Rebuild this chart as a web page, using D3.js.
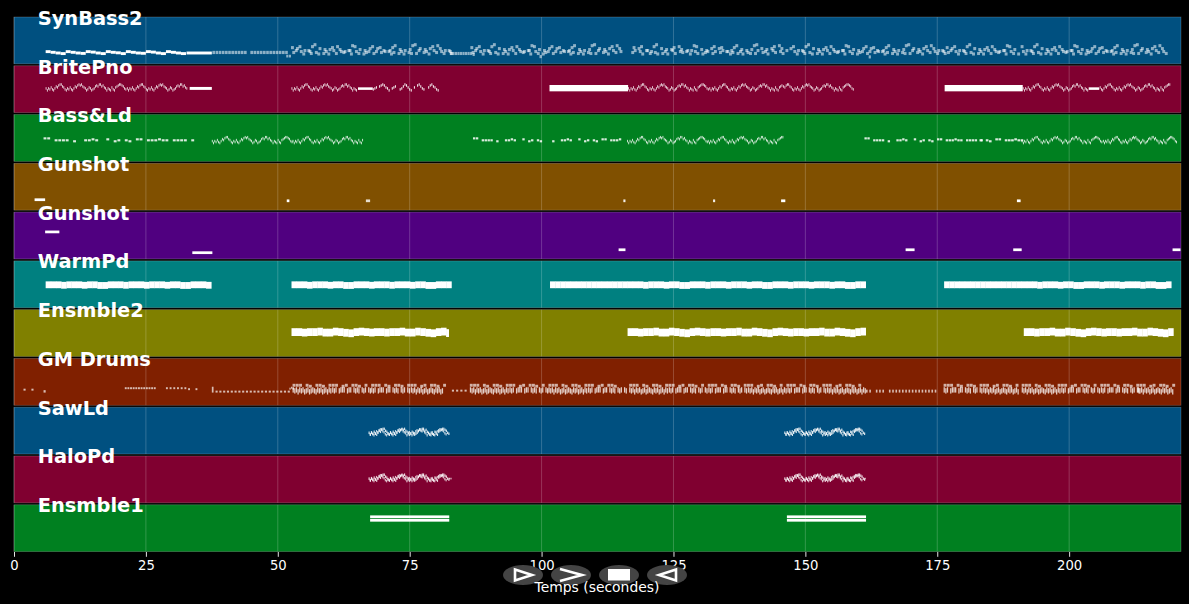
<!DOCTYPE html>
<html>
<head>
<meta charset="utf-8">
<script src="https://cdn.jsdelivr.net/npm/d3@7"></script>
<style>
html,body{margin:0;padding:0;background:#000;overflow:hidden}
svg{display:block;font-family:"DejaVu Sans",sans-serif}
</style>
</head>
<body>
<svg id="c" width="1189" height="604"></svg>
<script>
const trackNames = ["SynBass2","BritePno","Bass&Ld","Gunshot","Gunshot","WarmPd","Ensmble2","GM Drums","SawLd","HaloPd","Ensmble1"];
const trackColors = ["#005080","#800030","#008020","#805000","#500080","#008080","#808000","#802000","#005080","#800030","#008020"];
const tickValues = [0,25,50,75,100,125,150,175,200];
const axisLabel = "Temps (secondes)";
const timeMax = 221.2;
const pitchMax = 48;

// a phrase: [start s, step s, note length s, pitch span, velocity, base pitch, pitches]
const synOpening = [11,10.3,9.6,9, 11,10.3,9.6,9.2, 11,10.5,9.6,9, 11,10.3,9.8,9, 11,10.3,9.6,9.3, 11,10.5,9.6,9, 11,10.3,9.6,9];
const synPale = [0,0,0,0,0,0,0,0,0,0,0,null,0,0,0,0,0,0,0,0,0,0,0,0];
const synUpper = [15,null,14,16,null,12,null,11, 16,18,null,14,null,13,null,13, 15,null,16,13,null,11,null,12, 17,16,null,13,null,12,null,14,
  16,null,14,15,null,11,null,12, 15,17,null,13,null,12,null,13, 17,18,null,14,null,13,null,14, 16,null,17,14,null,12,null,11];
const synLower = [10,12,null,11,8.5,null,12,9, null,10,8.5,null,9,11,8.5,null, 12,9,null,11,10,null,12,8.5, null,11,9,null,8.5,10,11,null,
  9,11,null,10,12,null,11,8.5, 10,null,9,11,8.5,null,10,9, null,9,12,null,10,11,8.5,null, 12,10,null,11,9,null,12,9];
const synFlat = [9,9,9,9,9,9,9,9,9,8];

const leadMelody = [-1,-3,-1,-2,0,-2,-3,-1,1,0,2,3,3,1,0,-2, -3,-1,-2,0,-2,-3,-1,1,0,2,3,2,3,1,0,-1,
  -3,-2,0,-1,-3,-2,-1,1,2,1,3,3,1,2,0,-1, -3,-1,-2,-3,0,-2,-3,0,1,2,3,3,2,1,-1,-2];
const leadSparse = [-2,-1,0,null,1,2,3,2,0,-1,-3,null,-1,0,1,null,null,-2,-1,1,3,2,0,-2,-3,null,0,null,2,3,1,-1,-2,null,
  null,0,2,3,1,0,-2,-3];
const bassSparse = [2,2,null,0,0,0,0,null,-1,null,null,0,0,1,0,null,null,1,null,-1,0,null,0,-1,null,1,1,null,0,0,0,1,0,0,null,0,0,0,0,null,0];
const warmLine = [20,20,20,19.5,20,20,20,19.5,20,20,19.3,19.3,20,20,20,19.5];
const warmSteady = [20,20,20,20,20,20,20,20,20,20,20,20,20,20,20];
const ensLine = [21,21,20.5,21,21,21.5,20.5,20.5,21.5,21,20.3,19.8,21,21.5,21,20.5];
const drumTop = [19,19,19,null,19,18,null,19,19,18,null,19,19,19,null,18,19,null,19,19,18,null,19,null];
const drumLow = [13,12,13,11,13,12,13,11,12,13,11,12,13,12,11,13,12,13,11,12,13,11,13,12];
const drumTicks = [13,12,13,null,12,13,13,13,null,12,13,13,null,13,12,13,12,null,13,12,13,null,13,12];

const trackPhrases = [
  [ [6,.95,.95,3,1,0,synOpening],
    [32.7,4.8,4.8,3,1,0,[9.6]],
    [37.6,.6,.5,3.3,.55,10,synPale],
    [51.6,.5,.4,2.8,.55,6.5,[0,0]],
    [52.5,.475,.55,3.2,.55,0,synUpper],[52.75,.475,.55,3.2,.55,0,synLower],
    [82.6,.48,.42,3.2,.55,0,synFlat],
    [86.5,.475,.55,3.2,.55,0,synUpper.slice(0,60)],[86.75,.475,.55,3.2,.55,0,synLower.slice(0,60)],
    [99.6,.5,.45,3.2,.55,5.8,[0]],
    [117,.475,.55,3.2,.55,0,synLower.slice(0,62)],[117.25,.475,.55,3.2,.55,0,synUpper.slice(0,62)],
    [147,.475,.55,3.2,.55,0,synUpper.slice(2,64)],[147.25,.475,.55,3.2,.55,0,synLower.slice(2,64)],
    [162,.5,.42,3.2,.55,5.5,[0]],
    [176.6,.475,.55,3.2,.55,0,synUpper.slice(0,29)],[176.85,.475,.55,3.2,.55,0,synLower.slice(0,29)],
    [190.8,.475,.55,3.2,.55,0,synUpper.slice(3,61)],[191.05,.475,.55,3.2,.55,0,synLower.slice(3,61)] ],
  [ [6,.24,.16,2.6,.9,24.5,leadMelody],[21.4,.24,.16,2.6,.9,24.5,leadMelody.slice(0,48)],
    [33.3,4.2,4.2,3,1,23.3,[0]],
    [52.6,.24,.16,2.6,.9,24.5,leadMelody.slice(0,52)],[65.2,2.8,2.8,2.6,1,23.3,[0]],
    [68,.3,.2,2.6,.9,24.5,leadSparse],
    [101.5,14.9,14.9,6.5,1,21.8,[0]],
    [116.4,.24,.16,2.6,.9,24.5,leadMelody],[131.8,.24,.16,2.6,.9,24.5,leadMelody.slice(0,58)],[145.8,.24,.16,2.6,.9,24.5,leadMelody.slice(8,64)],
    [176.4,14.8,14.8,6.5,1,21.8,[0]],
    [191.2,.24,.16,2.6,.9,24.5,leadMelody.slice(0,52)],[203.7,2,2,2.6,1,23.3,[0]],[205.8,.24,.16,2.6,.9,24.5,leadMelody.slice(4,60)] ],
  [ [5.6,.7,.55,2.2,.85,20.5,bassSparse],
    [37.5,.24,.16,2.6,.9,20.5,leadMelody],[52.8,.24,.16,2.6,.9,20.5,leadMelody.slice(0,56)],
    [87,.55,.45,2.2,.85,20.5,bassSparse.slice(0,24)],[102,.55,.45,2.2,.85,20.5,bassSparse.slice(8,32)],
    [116.2,.24,.16,2.6,.9,20.5,leadMelody],[131.5,.24,.16,2.6,.9,20.5,leadMelody.slice(0,60)],
    [161.2,.55,.45,2.2,.85,20.5,bassSparse],[183,.6,.5,2.2,.85,20.5,bassSparse.slice(20,35)],
    [191,.24,.16,2.6,.9,20.5,leadMelody],[206.4,.22,.16,2.6,.9,20.5,leadMelody] ],
  [ [3.9,2,2,2.8,1,9.3,[0]],[51.7,.5,.5,2.8,1,8.2,[0]],[66.7,.8,.8,2.8,.8,8.2,[0]],
    [115.5,.4,.4,2.8,.9,8.2,[0]],[132.5,.4,.4,2.8,.9,8.2,[0]],[145.4,.8,.8,2.8,1,8.2,[0]],[190.1,.7,.7,2.8,1,8.2,[0]] ],
  [ [5.9,2.7,2.7,2.8,1,26.3,[0]],[33.8,3.8,3.8,2.8,1,5,[0]],
    [114.6,1.3,1.3,2.8,1,8,[0]],[169,1.7,1.7,2.8,1,8,[0]],[189.4,1.6,1.6,2.8,1,8,[0]],[219.6,1.5,1.5,2.8,1,8,[0]] ],
  [ [6,.98,1.05,7,1,0,warmLine],[21.7,.98,1.05,7,1,0,warmLine],
    [52.6,.98,1.05,7,1,0,warmLine],[68.2,.98,1.05,7,1,0,warmLine.slice(0,15)],
    [101.6,.98,1.05,7,1,0,warmSteady],[116.3,.98,1.05,7,1,0,warmLine],[132,.98,1.05,7,1,0,warmLine],[147.7,.98,1.05,7,1,0,warmLine.slice(0,14)],
    [176.3,.98,1.05,7,1,0,warmSteady],[191,.98,1.05,7,1,0,warmLine],[206.6,.98,1.05,7,1,0,warmLine.slice(0,13)] ],
  [ [52.6,.98,1.05,8,1,0,ensLine],[68.2,.98,1.05,8,1,0,ensLine.slice(0,14)],[81.9,.55,.55,8,1,20,[0]],
    [116.3,.98,1.05,8,1,0,ensLine],[132,.98,1.05,8,1,0,ensLine],[147.7,.98,1.05,8,1,0,ensLine.slice(0,14)],
    [191.4,.98,1.05,8,1,0,ensLine],[207,.98,1.05,8,1,0,ensLine.slice(0,13)] ],
  [ [1.8,.75,.4,2,.7,15,[0,null,0]],[5.6,.4,.4,2.5,.7,13,[0]],
    [21,.5,.36,2,.7,16.5,[0,0,0,0,0,0,0,0,0,0,0,0]],
    [28.8,.7,.36,2,.7,16.5,[0,0,0,0,0,0,-1,null,-1]],
    [37.5,.5,.32,6,.7,13,[0]],
    [38.2,.72,.4,2,.7,13,[0,0,0,0,0,0,0,0,0,0,0,0,0,0,0,0,0,0,0,0]],
    [52.2,.3,.25,2,.7,16,[0,1,0]],
    [52.8,.62,.55,3,.65,0,drumTop],[67.7,.62,.55,3,.65,0,drumTop],
    [52.8,.31,.24,5.5,.78,0,drumLow],[60.3,.31,.24,5.5,.78,0,drumTicks],[67.7,.31,.24,5.5,.78,0,drumTicks],[75.2,.31,.24,5.5,.78,0,drumLow.slice(0,20)],
    [83,.8,.4,2,.7,14,[0,0,0,0]],
    [86.4,.62,.55,3,.65,0,drumTop],[101.3,.62,.55,3,.65,0,drumTop.slice(0,22)],
    [86.4,.31,.24,5.5,.78,0,drumLow],[93.9,.31,.24,5.5,.78,0,drumTicks],[101.3,.31,.24,5.5,.78,0,drumLow],[108.8,.31,.24,5.5,.78,0,drumTicks],
    [116.6,.62,.55,3,.65,0,drumTop],[131.5,.62,.55,3,.65,0,drumTop],[146.4,.62,.55,3,.65,0,drumTop],
    [116.6,.31,.24,5.5,.78,0,drumLow],[124.1,.31,.24,5.5,.78,0,drumTicks],[131.6,.31,.24,5.5,.78,0,drumTicks],[139.1,.31,.24,5.5,.78,0,drumLow],[146.6,.31,.24,5.5,.78,0,drumTicks],[154.1,.31,.24,5.5,.78,0,drumLow],
    [161.5,.62,.3,3,.7,13,[0,0,null,0,0,0,null,0,0,0,0,0,0,0,0,0,0,0,0,0,0,0,null]],
    [176.2,.62,.55,3,.65,0,drumTop],
    [176.2,.31,.24,5.5,.78,0,drumTicks],[183.7,.31,.24,5.5,.78,0,drumLow.slice(0,22)],
    [191,.62,.55,3,.65,0,drumTop],[205.9,.62,.55,3,.65,0,drumTop],
    [191,.31,.24,5.5,.78,0,drumLow],[198.5,.31,.24,5.5,.78,0,drumTicks],[206,.31,.24,5.5,.78,0,drumTicks],[213,.31,.24,5.5,.78,0,drumLow.slice(0,22)] ],
  [ [67.2,.24,.22,2.6,.85,21.5,leadMelody],[67.4,.24,.22,2.6,.75,21,leadMelody.slice(3,64)],
    [146,.24,.22,2.6,.85,21.5,leadMelody],[146.2,.24,.22,2.6,.75,21,leadMelody.slice(3,64)] ],
  [ [67.2,.24,.22,2.6,.85,24.5,leadMelody],[67.4,.24,.22,2.6,.75,24,leadMelody.slice(3,64)],[82.4,.3,.25,1.7,.7,24,[0,0]],
    [146,.24,.22,2.6,.85,24.5,leadMelody],[146.2,.24,.22,2.6,.75,24,leadMelody.slice(3,64)],[161.2,.3,.25,1.7,.7,24,[0]] ],
  [ [67.5,15,15,2.8,1,34.3,[0]],[67.5,15,15,2.8,1,30.7,[0]],
    [146.5,15,15,2.8,1,34.3,[0]],[146.5,15,15,2.8,1,30.7,[0]] ]
];

const controlGlyphs = ["play","next","stop","back"];

const svg = d3.select("#c");
const x = d3.scaleLinear().domain([0,timeMax]).range([14,1181]);
const band = d3.scaleBand().domain(d3.range(trackNames.length)).range([17,551.6]).paddingInner(0.04);

const panels = svg.selectAll("g.track").data(trackNames).join("g").attr("class","track");
panels.each(function(name,i){
  const g = d3.select(this);
  const top = band(i), h = band.bandwidth();
  const y = d3.scaleLinear().domain([0,pitchMax]).range([top+h,top]);
  g.append("rect").attr("x",x(0)).attr("y",top).attr("width",x(timeMax)-x(0)).attr("height",h)
    .attr("fill",trackColors[i]).attr("stroke","#fff").attr("stroke-opacity",.26).attr("stroke-width",.7);
  g.selectAll("line.grid").data(tickValues).join("line").attr("class","grid")
    .attr("x1",d=>x(d)).attr("x2",d=>x(d)).attr("y1",top).attr("y2",top+h)
    .attr("stroke","#fff").attr("stroke-opacity",.22).attr("stroke-width",.9);
  const notes = [];
  trackPhrases[i].forEach(([start,step,len,span,vel,base,pitches])=>{
    pitches.forEach((p,k)=>{ if(p!==null) notes.push({t:start+k*step,len,span,vel,p:base+p}); });
  });
  g.selectAll("rect.note").data(notes).join("rect").attr("class","note")
    .attr("x",d=>x(d.t)).attr("width",d=>x(d.t+d.len)-x(d.t))
    .attr("y",d=>y(d.p+d.span)).attr("height",d=>y(d.p)-y(d.p+d.span))
    .attr("fill","#fff").attr("fill-opacity",d=>d.vel);
});
panels.append("text").attr("x",x(4.5)).attr("y",(d,i)=>band(i)+8-i*0.08)
  .attr("fill","#fff").attr("font-weight","bold").attr("font-size",19.4).text(d=>d);

const axis = svg.append("g").attr("transform","translate(0,552)")
  .call(d3.axisBottom(x).tickValues(tickValues).tickFormat(d3.format("d")).tickSize(4.8).tickPadding(3.5));
axis.select(".domain").remove();
axis.selectAll("line").attr("stroke","#fff").attr("stroke-width",.9);
axis.selectAll("text").attr("fill","#fff").attr("font-size",13.2).attr("font-family","DejaVu Sans");

const ctrlX = d3.scalePoint().domain(controlGlyphs).range([523,667]);
const ctrl = svg.selectAll("g.ctrl").data(controlGlyphs).join("g").attr("class","ctrl")
  .attr("transform",d=>`translate(${ctrlX(d)},575)`);
ctrl.append("ellipse").attr("rx",20).attr("ry",10).attr("fill","#444");
ctrl.filter(d=>d==="stop").append("rect").attr("x",-11).attr("y",-6).attr("width",22).attr("height",11.5).attr("fill","#fff");
ctrl.filter(d=>d==="next").append("path").attr("d","M-11,-6L11,0L-11,6").attr("fill","none").attr("stroke","#fff").attr("stroke-width",2.6);
ctrl.filter(d=>d==="play").append("path").attr("d","M-8,-5.5L9,0L-8,5.5Z").attr("fill","none").attr("stroke","#fff").attr("stroke-width",2.6);
ctrl.filter(d=>d==="back").append("path").attr("d","M9,-5.5L-8,0L9,5.5Z").attr("fill","none").attr("stroke","#fff").attr("stroke-width",2.6);

svg.append("text").attr("x",597).attr("y",592).attr("text-anchor","middle")
  .attr("fill","#fff").attr("font-size",13.9).text(axisLabel);
</script>
</body>
</html>
